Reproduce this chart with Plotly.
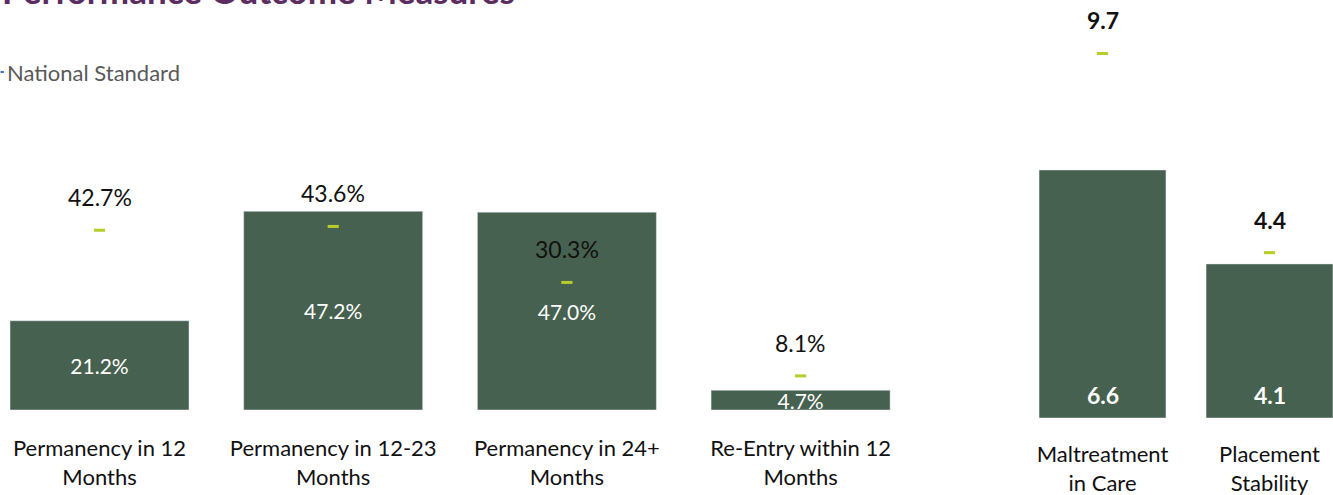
import plotly.graph_objects as go

# left panel: permanency / re-entry measures (percent)
pct_categories = ["Permanency in 12<br>Months", "Permanency in 12-23<br>Months",
                  "Permanency in 24+<br>Months", "Re-Entry within 12<br>Months"]
pct_values = [21.2, 47.2, 47.0, 4.7]
pct_standard = [42.7, 43.6, 30.3, 8.1]

# right panel: rates
rate_categories = ["Maltreatment<br>in Care", "Placement<br>Stability"]
rate_values = [6.6, 4.1]
rate_standard = [9.7, 4.4]

BAR = "#476150"
STD = "#b8cc2a"
FONT = "Lato"

fig = go.Figure()

pct_x = list(range(len(pct_values)))
rate_x = list(range(len(rate_values)))

fig.add_trace(go.Bar(
    x=pct_x, y=pct_values, width=0.766, marker_color=BAR,
    text=[f"{v:.1f}%" for v in pct_values], textposition="inside",
    insidetextanchor="middle", constraintext="none", cliponaxis=True,
    textfont=dict(color="white", size=21, family=FONT),
    showlegend=False, xaxis="x", yaxis="y"))

fig.add_trace(go.Scatter(
    x=pct_x, y=pct_standard, mode="markers", name="National Standard",
    marker=dict(symbol="line-ew", size=8, line=dict(color=STD, width=3)),
    showlegend=False, xaxis="x", yaxis="y"))

fig.add_trace(go.Bar(
    x=rate_x, y=rate_values, width=0.76, marker_color=BAR,
    showlegend=False, xaxis="x2", yaxis="y2"))

fig.add_trace(go.Scatter(
    x=rate_x, y=rate_standard, mode="markers", name="National Standard",
    marker=dict(symbol="line-ew", size=8, line=dict(color=STD, width=3)),
    showlegend=False, xaxis="x2", yaxis="y2"))

# national standard labels above the dashes
for x, v in zip(pct_x, pct_standard):
    fig.add_annotation(x=x, y=v, xref="x", yref="y", text=f"{v:.1f}%",
                       showarrow=False, yshift=33,
                       font=dict(size=23, color="#111111", family=FONT))
for x, v in zip(rate_x, rate_standard):
    fig.add_annotation(x=x, y=v, xref="x2", yref="y2", text=f"{v:.1f}",
                       showarrow=False, yshift=33,
                       font=dict(size=23, color="#111111", family=FONT, weight="bold"))
# rate values near the base of the bars
for x, v in zip(rate_x, rate_values):
    fig.add_annotation(x=x, y=0, xref="x2", yref="y2", text=f"{v:.1f}",
                       showarrow=False, yshift=23,
                       font=dict(size=23, color="white", family=FONT, weight="bold"))

# title, partly cut off at the top
fig.add_annotation(x=0, y=1, xref="paper", yref="paper", xanchor="left",
                   yanchor="bottom", yshift=-13, showarrow=False,
                   text="<b>Performance Outcome Measures</b>",
                   font=dict(size=35, color="#5b2c5f", family=FONT))

# legend
fig.add_annotation(x=0, y=1, xref="paper", yref="paper", xanchor="left",
                   yanchor="middle", xshift=5, yshift=-72, showarrow=False,
                   text="National Standard",
                   font=dict(size=22, color="#595959", family=FONT))
fig.add_shape(type="rect", xref="paper", yref="paper", x0=0.0004, x1=0.003,
              y0=1 - 71 / 418, y1=1 - 73 / 418, line_width=0,
              fillcolor="#4472c4")

fig.update_layout(
    width=1333, height=495,
    margin=dict(l=0, r=0, t=0, b=77),
    paper_bgcolor="white", plot_bgcolor="white",
    font=dict(family=FONT, color="#111111"),
    xaxis=dict(domain=[0, 920 / 1333], range=[-0.4258, 3.511],
               tickvals=pct_x, ticktext=pct_categories,
               showgrid=False, zeroline=False, showline=False, ticks="",
               tickfont=dict(size=22, color="#111111"), ticklabelstandoff=23),
    yaxis=dict(domain=[8 / 418, 1], range=[0, 410 / 4.21], visible=False),
    xaxis2=dict(domain=[1000 / 1333, 1], range=[-0.6138, 1.3802],
                tickvals=rate_x, ticktext=rate_categories,
                showgrid=False, zeroline=False, showline=False, ticks="",
                tickfont=dict(size=22, color="#111111"), ticklabelstandoff=29),
    yaxis2=dict(domain=[0, 1], range=[0, 418 / 37.58], visible=False,
                anchor="x2"),
)

fig.write_html("out.html", config={"displayModeBar": False},
               post_script="document.body.style.margin='0';")
